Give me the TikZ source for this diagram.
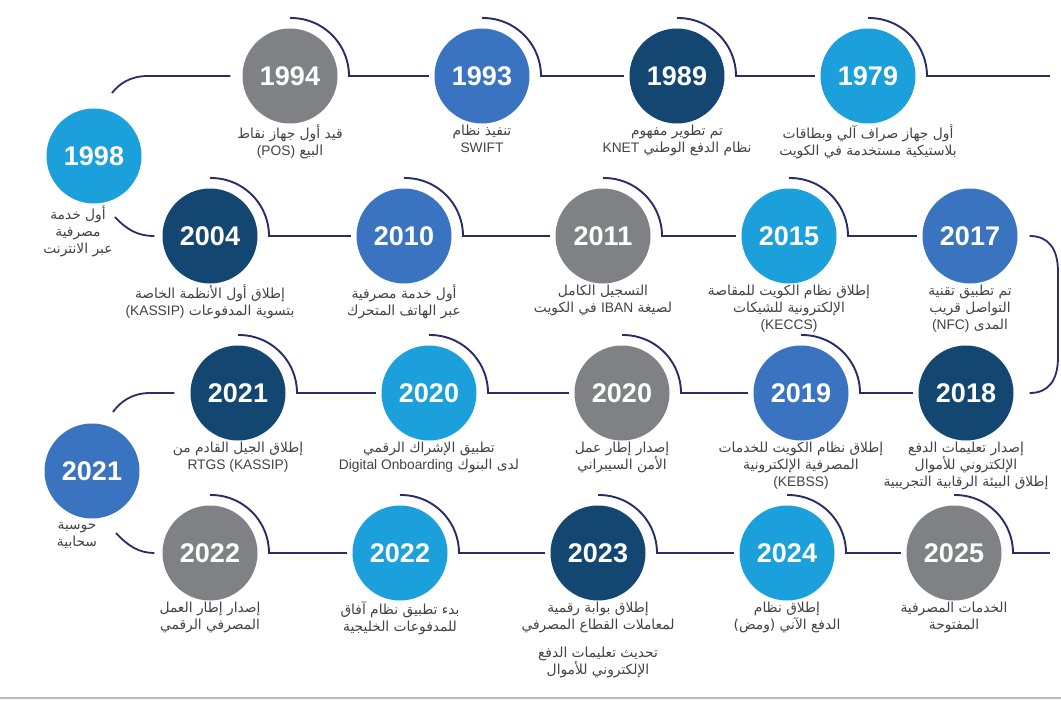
\documentclass[tikz,border=0pt]{standalone}
\usepackage{fontspec}
\setmainfont{Liberation Sans}
\newfontfamily\arabicfont[Script=Arabic]{DejaVu Sans}
\newfontfamily\latinfont{Liberation Sans}
\TeXXeTstate=1
\definecolor{lblue}{RGB}{27,160,220}
\definecolor{mblue}{RGB}{58,116,192}
\definecolor{dnavy}{RGB}{19,71,114}
\definecolor{gry}{RGB}{128,129,132}
\definecolor{linec}{RGB}{42,44,104}
\definecolor{txt}{RGB}{66,66,72}
\newcommand{\arl}[1]{\beginR #1\endR}
\newcommand{\ltn}[1]{\beginL{\latinfont #1}\endL{}}
\begin{document}
\begin{tikzpicture}[x=1pt,y=1pt,
  yr/.style={circle, minimum size=95pt, inner sep=0pt, text=white, font=\fontsize{27}{27}\selectfont\bfseries},
  captxt/.style={anchor=north, align=center, text=txt, font=\arabicfont\fontsize{13.8}{17}\selectfont, inner sep=0pt},
  conn/.style={draw=linec, line width=1.8pt},
  arcst/.style={draw=linec, line width=1.9pt}]
\useasboundingbox (0,0) rectangle (1061,-701);
\fill[white] (0,0) rectangle (1061,-701);
\draw[gray!55, line width=1.5pt] (0,-698) -- (1061,-698);

% ---------- circles ----------
\node[yr,fill=gry]   (y1994) at (290,-76) {1994};
\node[yr,fill=mblue] (y1993) at (482,-76) {1993};
\node[yr,fill=dnavy] (y1989) at (677,-76) {1989};
\node[yr,fill=lblue] (y1979) at (868,-76) {1979};
\node[yr,fill=lblue] (y1998) at (94,-156) {1998};

\node[yr,fill=dnavy] (y2004) at (210,-236) {2004};
\node[yr,fill=mblue] (y2010) at (404,-236) {2010};
\node[yr,fill=gry]   (y2011) at (603,-236) {2011};
\node[yr,fill=lblue] (y2015) at (789,-236) {2015};
\node[yr,fill=mblue] (y2017) at (970,-236) {2017};

\node[yr,fill=dnavy] (y2021a) at (238,-393) {2021};
\node[yr,fill=lblue] (y2020a) at (429,-393) {2020};
\node[yr,fill=gry]   (y2020b) at (622,-393) {2020};
\node[yr,fill=mblue] (y2019) at (801,-393) {2019};
\node[yr,fill=dnavy] (y2018) at (966,-393) {2018};
\node[yr,fill=mblue] (y2021b) at (92,-471) {2021};

\node[yr,fill=gry]   (y2022a) at (210,-553) {2022};
\node[yr,fill=lblue] (y2022b) at (400,-553) {2022};
\node[yr,fill=dnavy] (y2023) at (598,-553) {2023};
\node[yr,fill=lblue] (y2024) at (787,-553) {2024};
\node[yr,fill=gry]   (y2025) at (954,-553) {2025};

% ---------- arcs ----------
\foreach \n in {y1994,y1993,y1989,y1979,y2004,y2010,y2011,y2015,y2021a,y2020a,y2020b,y2019,y2022a,y2022b,y2023,y2024,y2025}{
  \draw[arcst] ([yshift=58pt]\n.center) arc[start angle=91,end angle=0,radius=58pt];
  \coordinate (e\n) at ([xshift=58pt]\n.center);
}

% ---------- connectors ----------
\coordinate (r1) at (1050,-76);
\coordinate (r4) at (1050,-553);
\draw[conn] (ey1979) -- (r1);
\draw[conn] (ey1989) -- ([xshift=-5pt]y1979.west);
\draw[conn] (ey1993) -- ([xshift=-5pt]y1989.west);
\draw[conn] (ey1994) -- ([xshift=-5pt]y1993.west);
\coordinate (l1) at (112,-93);
\draw[conn] (l1) .. controls (119,-84) and (130,-76) .. (148,-76) -- ([xshift=-12pt]y1994.west);

\coordinate (l2) at (115,-217);
\draw[conn] (l2) .. controls (127,-230) and (138,-236) .. ([xshift=-8pt]y2004.west);
\draw[conn] (ey2004) -- ([xshift=-5pt]y2010.west);
\draw[conn] (ey2010) -- ([xshift=-5pt]y2011.west);
\draw[conn] (ey2011) -- ([xshift=-5pt]y2015.west);
\draw[conn] (ey2015) -- ([xshift=-5pt]y2017.west);
\draw[conn] ([xshift=12pt]y2017.east) .. controls (1048,-236) and (1058,-248) .. (1058,-272)
   -- (1058,-357) .. controls (1058,-381) and (1048,-393) .. ([xshift=16pt]y2018.east);

\draw[conn] (ey2019) -- ([xshift=-5pt]y2018.west);
\draw[conn] (ey2020b) -- ([xshift=-5pt]y2019.west);
\draw[conn] (ey2020a) -- ([xshift=-5pt]y2020b.west);
\draw[conn] (ey2021a) -- ([xshift=-5pt]y2020a.west);
\coordinate (l3) at (113,-412);
\draw[conn] (l3) .. controls (120,-402) and (132,-393) .. (150,-393) -- ([xshift=-16pt]y2021a.west);

\coordinate (l4) at (116,-533);
\draw[conn] (l4) .. controls (128,-546) and (139,-553) .. ([xshift=-8pt]y2022a.west);
\draw[conn] (ey2022a) -- ([xshift=-5pt]y2022b.west);
\draw[conn] (ey2022b) -- ([xshift=-5pt]y2023.west);
\draw[conn] (ey2023) -- ([xshift=-5pt]y2024.west);
\draw[conn] (ey2024) -- ([xshift=-5pt]y2025.west);
\draw[conn] (ey2025) -- (r4);

% ---------- captions ----------
\node[captxt] (t1994) at ([yshift=-1pt]y1994.south) {\arl{قيد أول جهاز نقاط}\\\arl{البيع \ltn{(POS)}}};
\node[captxt] (t1993) at ([yshift=-1pt]y1993.south) {\arl{تنفيذ نظام}\\\ltn{SWIFT}};
\node[captxt] (t1989) at ([yshift=-1pt]y1989.south) {\arl{تم تطوير مفهوم}\\\arl{نظام الدفع الوطني \ltn{KNET}}};
\node[captxt] (t1979) at ([yshift=-1pt]y1979.south) {\arl{أول جهاز صراف آلي وبطاقات}\\\arl{بلاستيكية مستخدمة في الكويت}};
\node[captxt] (t1998) at (78,-206) {\arl{أول خدمة}\\\arl{مصرفية}\\\arl{عبر الانترنت}};

\node[captxt] (t2004) at ([yshift=-1pt]y2004.south) {\arl{إطلاق أول الأنظمة الخاصة}\\\arl{بتسوية المدفوعات \ltn{(KASSIP)}}};
\node[captxt] (t2010) at ([yshift=-1pt]y2010.south) {\arl{أول خدمة مصرفية}\\\arl{عبر الهاتف المتحرك}};
\node[captxt] (t2011) at ([yshift=-1pt]y2011.south) {\arl{التسجيل الكامل}\\\arl{لصيغة \ltn{IBAN} في الكويت}};
\node[captxt] (t2015) at ([yshift=-1pt]y2015.south) {\arl{إطلاق نظام الكويت للمقاصة}\\\arl{الإلكترونية للشيكات}\\\ltn{(KECCS)}};
\node[captxt] (t2017) at ([yshift=-1pt]y2017.south) {\arl{تم تطبيق تقنية}\\\arl{التواصل قريب}\\\arl{المدى \ltn{(NFC)}}};

\node[captxt] (t2021a) at ([yshift=-1pt]y2021a.south) {\arl{إطلاق الجيل القادم من}\\\ltn{RTGS (KASSIP)}};
\node[captxt] (t2020a) at ([yshift=-1pt]y2020a.south) {\arl{تطبيق الإشراك الرقمي}\\\arl{لدى البنوك \ltn{Digital Onboarding}}};
\node[captxt] (t2020b) at ([yshift=-1pt]y2020b.south) {\arl{إصدار إطار عمل}\\\arl{الأمن السيبراني}};
\node[captxt] (t2019) at ([yshift=-1pt]y2019.south) {\arl{إطلاق نظام الكويت للخدمات}\\\arl{المصرفية الإلكترونية}\\\ltn{(KEBSS)}};
\node[captxt] (t2018) at ([yshift=-1pt]y2018.south) {\arl{إصدار تعليمات الدفع}\\\arl{الإلكتروني للأموال}\\\arl{إطلاق البيئة الرقابية التجريبية}};
\node[captxt] (t2021b) at (77,-522) {\arl{حوسبة}\\\arl{سحابية}};

\node[captxt] (t2022a) at ([yshift=-1pt]y2022a.south) {\arl{إصدار إطار العمل}\\\arl{المصرفي الرقمي}};
\node[captxt] (t2022b) at ([yshift=-1pt]y2022b.south) {\arl{بدء تطبيق نظام آفاق}\\\arl{للمدفوعات الخليجية}};
\node[captxt] (t2023) at ([yshift=-1pt]y2023.south) {\arl{إطلاق بوابة رقمية}\\\arl{لمعاملات القطاع المصرفي}\\[11pt]\arl{تحديث تعليمات الدفع}\\\arl{الإلكتروني للأموال}};
\node[captxt] (t2024) at ([yshift=-1pt]y2024.south) {\arl{إطلاق نظام}\\\arl{الدفع الآني (ومض)}};
\node[captxt] (t2025) at ([yshift=-1pt]y2025.south) {\arl{الخدمات المصرفية}\\\arl{المفتوحة}};
\end{tikzpicture}
\end{document}
